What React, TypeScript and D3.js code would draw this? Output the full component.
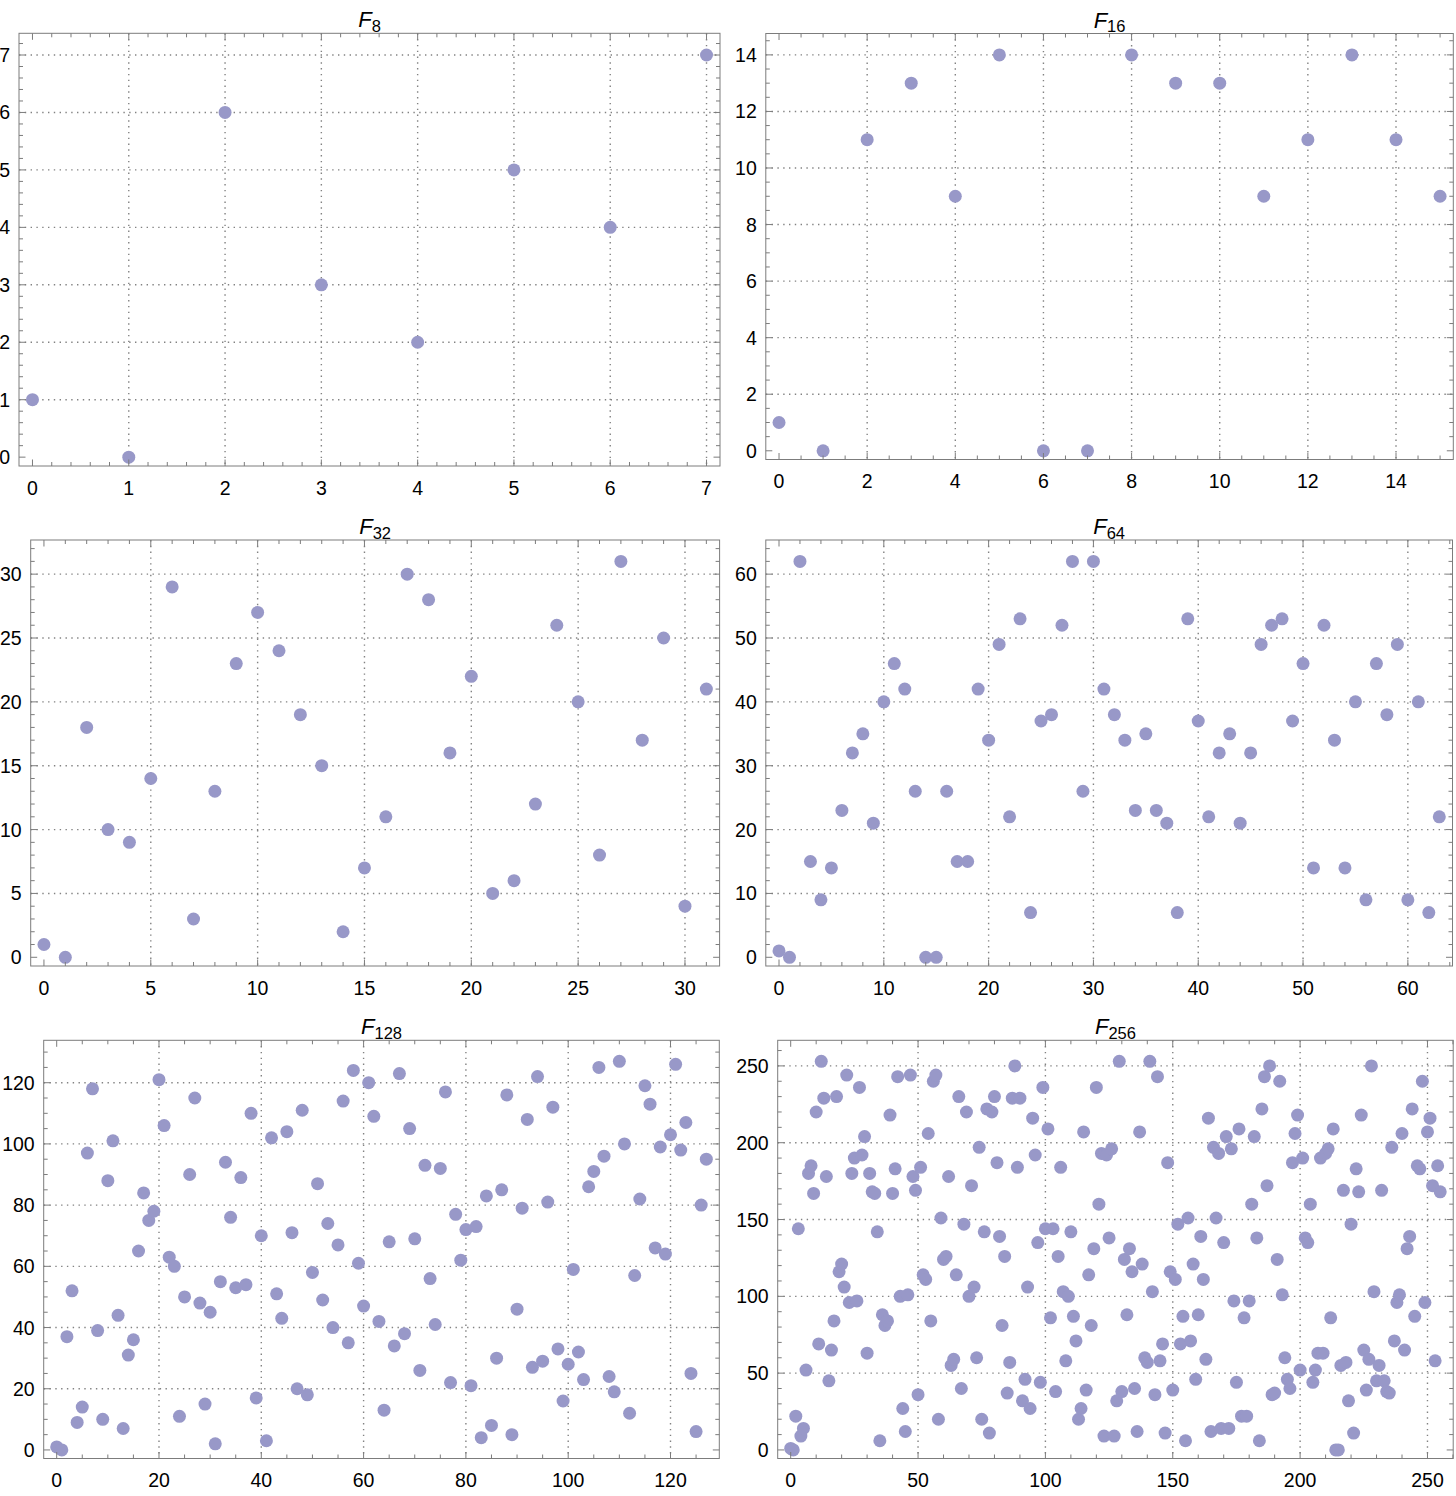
import * as d3 from 'd3';
import { useEffect, useRef } from 'react';

const width = 1456;
const height = 1496;

// values (index = position on the x axis)
const f8Values = [1, 0, 6, 3, 2, 5, 4, 7];

const f16Values = [1, 0, 11, 13, 9, 14, 0, 0, 14, 13, 13, 9, 11, 14, 11, 9];

const f32Values = [
  1, 0, 18, 10, 9, 14, 29, 3, 13, 23, 27, 24, 19, 15, 2, 7,
  11, 30, 28, 16, 22, 5, 6, 12, 26, 20, 8, 31, 17, 25, 4, 21,
];

const f64Values = [
  1, 0, 62, 15, 9, 14, 23, 32, 35, 21, 40, 46, 42, 26, 0, 0,
  26, 15, 15, 42, 34, 49, 22, 53, 7, 37, 38, 52, 62, 26, 62, 42,
  38, 34, 23, 35, 23, 21, 7, 53, 37, 22, 32, 35, 21, 32, 49, 52,
  53, 37, 46, 14, 52, 34, 14, 40, 9, 46, 38, 49, 9, 40, 7, 22,
];

const f128Values = [
  1, 0, 37, 52, 9, 14, 97, 118, 39, 10, 88, 101, 44, 7, 31, 36,
  65, 84, 75, 78, 121, 106, 63, 60, 11, 50, 90, 115, 48, 15, 45, 2,
  55, 94, 76, 53, 89, 54, 110, 17, 70, 3, 102, 51, 43, 104, 71, 20,
  111, 18, 58, 87, 49, 74, 40, 67, 114, 35, 124, 61, 47, 120, 109, 42,
  13, 68, 34, 123, 38, 105, 69, 26, 93, 56, 41, 92, 117, 22, 77, 62,
  72, 21, 73, 4, 83, 8, 30, 85, 116, 5, 46, 79, 108, 27, 122, 29,
  81, 112, 33, 16, 28, 59, 32, 23, 86, 91, 125, 96, 24, 19, 127, 100,
  12, 57, 82, 119, 113, 66, 99, 64, 103, 126, 98, 107, 25, 6, 80, 95,
];

const f256Values = [
  1, 0, 22, 144, 9, 14, 52, 180, 185, 167, 220, 69, 253, 229, 178, 45,
  65, 84, 230, 116, 121, 106, 244, 96, 180, 190, 97, 236, 192, 204, 63, 180,
  168, 167, 142, 6, 88, 81, 84, 218, 167, 183, 243, 100, 27, 12, 101, 244,
  178, 169, 36, 184, 114, 111, 206, 84, 240, 244, 20, 151, 124, 126, 178, 55,
  59, 114, 230, 40, 147, 220, 100, 172, 106, 60, 197, 20, 142, 222, 11, 220,
  230, 187, 139, 81, 126, 37, 57, 229, 250, 184, 229, 32, 46, 106, 27, 216,
  192, 135, 44, 236, 144, 209, 86, 144, 38, 126, 184, 103, 58, 100, 142, 87,
  71, 20, 27, 207, 39, 114, 81, 131, 236, 160, 193, 9, 192, 138, 196, 9,
  32, 253, 38, 124, 88, 131, 116, 40, 12, 207, 121, 60, 57, 253, 103, 36,
  243, 58, 69, 11, 187, 116, 39, 111, 147, 69, 87, 6, 151, 71, 121, 46,
  88, 139, 111, 59, 216, 12, 197, 151, 193, 14, 135, 204, 14, 196, 97, 44,
  209, 22, 86, 22, 97, 160, 204, 138, 6, 222, 243, 172, 250, 36, 37, 124,
  240, 101, 60, 46, 40, 187, 206, 218, 52, 190, 138, 135, 160, 44, 52, 63,
  190, 63, 193, 196, 86, 209, 0, 0, 55, 169, 57, 32, 147, 11, 183, 168,
  218, 65, 39, 59, 250, 103, 45, 55, 169, 45, 38, 37, 197, 71, 96, 101,
  206, 65, 131, 139, 222, 87, 185, 183, 240, 96, 207, 216, 172, 58, 185, 168,
];

const subscripts = ['8', '16', '32', '64', '128', '256'];
const majorSteps = [1, 2, 5, 10, 20, 50];
const minorSteps = [0.2, 0.5, 1, 2, 5, 10];

// frame boxes [left, top, right, bottom]
const frames = [
  [19, 33.3, 720, 466],
  [765.8, 33.5, 1453.3, 459.5],
  [30.7, 540, 719.6, 966],
  [765.8, 540, 1452.5, 966],
  [43.7, 1040.3, 719.3, 1458.5],
  [777.7, 1040.3, 1453.2, 1458.5],
];

const pointColor = '#9898c8';
const gridColor = '#828282';
const frameColor = '#7c7c7c';
const font = '"Liberation Sans", Arial, sans-serif';

// multiples of step inside the domain
const multiples = (domain: number[], step: number) => {
  const k0 = Math.ceil(domain[0] / step - 1e-9);
  const k1 = Math.floor(domain[1] / step + 1e-9);
  return d3.range(k0, k1 + 1).map((k) => +(k * step).toFixed(6));
};

const isMajor = (v: number, step: number) => Math.abs(v / step - Math.round(v / step)) < 1e-6;

export default function App() {
  const ref = useRef<HTMLDivElement>(null);

  useEffect(() => {
    if (!ref.current) return;

    const svg = d3
      .create('svg')
      .attr('width', width)
      .attr('height', height)
      .style('position', 'absolute')
      .style('left', '0px')
      .style('top', '0px')
      .style('background', '#fff')
      .attr('font-family', font);

    const allValues = [f8Values, f16Values, f32Values, f64Values, f128Values, f256Values];

    allValues.forEach((values, i) => {
      const [left, top, right, bottom] = frames[i];
      const n = values.length - 1;
      const ymax = d3.max(values) ?? 1;

      const x = d3.scaleLinear().domain([-0.02 * n, 1.02 * n]).range([left, right]);
      const y = d3.scaleLinear().domain([-0.022 * ymax, 1.054 * ymax]).range([bottom, top]);

      const major = majorSteps[i];
      const minor = minorSteps[i];
      const xMajor = multiples(x.domain(), major);
      const yMajor = multiples(y.domain(), major);
      const xMinor = multiples(x.domain(), minor).filter((v) => !isMajor(v, major));
      const yMinor = multiples(y.domain(), minor).filter((v) => !isMajor(v, major));

      const g = svg.append('g');

      // グリッド線（点線）
      const grid = g
        .append('g')
        .attr('stroke', gridColor)
        .attr('stroke-width', 1.4)
        .attr('stroke-dasharray', '1.4 4.4');
      grid
        .selectAll('line.v')
        .data(xMajor.filter((v) => v !== 0))
        .join('line')
        .attr('class', 'v')
        .attr('x1', (d) => x(d))
        .attr('x2', (d) => x(d))
        .attr('y1', top)
        .attr('y2', bottom);
      grid
        .selectAll('line.h')
        .data(yMajor.filter((v) => v !== 0))
        .join('line')
        .attr('class', 'h')
        .attr('x1', left)
        .attr('x2', right)
        .attr('y1', (d) => y(d))
        .attr('y2', (d) => y(d));

      // 点
      g.append('g')
        .attr('fill', pointColor)
        .selectAll('circle')
        .data(values)
        .join('circle')
        .attr('cx', (_, k) => x(k))
        .attr('cy', (d) => y(d))
        .attr('r', 6.5);

      // フレーム
      g.append('rect')
        .attr('x', left)
        .attr('y', top)
        .attr('width', right - left)
        .attr('height', bottom - top)
        .attr('fill', 'none')
        .attr('stroke', frameColor)
        .attr('stroke-width', 1);

      // 目盛り（四辺とも内向き）
      const ticks = g.append('g').attr('stroke', frameColor).attr('stroke-width', 1);
      const xTicks = [
        ...xMajor.map((v) => ({ v, len: 6.5 })),
        ...xMinor.map((v) => ({ v, len: 4 })),
      ];
      const yTicks = [
        ...yMajor.map((v) => ({ v, len: 6.5 })),
        ...yMinor.map((v) => ({ v, len: 4 })),
      ];
      xTicks.forEach(({ v, len }) => {
        ticks.append('line').attr('x1', x(v)).attr('x2', x(v)).attr('y1', bottom).attr('y2', bottom - len);
        ticks.append('line').attr('x1', x(v)).attr('x2', x(v)).attr('y1', top).attr('y2', top + len);
      });
      yTicks.forEach(({ v, len }) => {
        ticks.append('line').attr('x1', left).attr('x2', left + len).attr('y1', y(v)).attr('y2', y(v));
        ticks.append('line').attr('x1', right).attr('x2', right - len).attr('y1', y(v)).attr('y2', y(v));
      });

      // ラベル
      g.append('g')
        .attr('font-size', 19.5)
        .attr('text-anchor', 'middle')
        .selectAll('text')
        .data(xMajor)
        .join('text')
        .attr('x', (d) => x(d))
        .attr('y', bottom + 28.5)
        .text((d) => String(d));
      g.append('g')
        .attr('font-size', 19.5)
        .attr('text-anchor', 'end')
        .selectAll('text')
        .data(yMajor)
        .join('text')
        .attr('x', left - 9)
        .attr('y', (d) => y(d) + 7)
        .text((d) => String(d));

      // タイトル F_n
      const title = g
        .append('text')
        .attr('x', (left + right) / 2)
        .attr('y', top - 6)
        .attr('text-anchor', 'middle');
      title.append('tspan').attr('font-size', 22).attr('font-style', 'italic').text('F');
      title.append('tspan').attr('font-size', 16.5).attr('dy', 4.5).text(subscripts[i]);
    });

    ref.current.innerHTML = '';
    ref.current.appendChild(svg.node()!);
  }, [ref]);

  return <div ref={ref} />;
}
